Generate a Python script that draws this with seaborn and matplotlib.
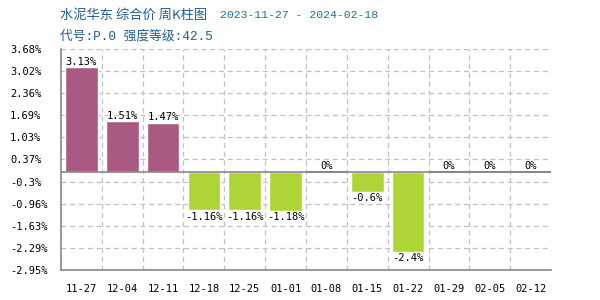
import matplotlib
matplotlib.use("Agg")
import matplotlib.pyplot as plt
import seaborn as sns
import pandas as pd

categories = ["11-27", "12-04", "12-11", "12-18", "12-25", "01-01", "01-08",
              "01-15", "01-22", "01-29", "02-05", "02-12"]
values = [3.13, 1.51, 1.47, -1.16, -1.16, -1.18, 0, -0.6, -2.4, 0, 0, 0]
value_labels = ["3.13%", "1.51%", "1.47%", "-1.16%", "-1.16%", "-1.18%", "0%",
                "-0.6%", "-2.4%", "0%", "0%", "0%"]
y_ticks = [3.68, 3.02, 2.36, 1.69, 1.03, 0.37, -0.3, -0.96, -1.63, -2.29, -2.95]
y_tick_labels = ["3.68%", "3.02%", "2.36%", "1.69%", "1.03%", "0.37%", "-0.3%",
                 "-0.96%", "-1.63%", "-2.29%", "-2.95%"]
title1_cjk = "水泥华东 综合价 周K柱图"
title1_dates = "2023-11-27 - 2024-02-18"
title2 = "代号:P.0 强度等级:42.5"

POS = "#AA5A82"
NEG = "#ADD535"

sns.set_theme(style="white")
plt.rcParams['font.family'] = ['DejaVu Sans Mono', 'Noto Sans CJK SC']

df = pd.DataFrame({"cat": categories, "val": values,
                   "sign": ["pos" if v >= 0 else "neg" for v in values]})

fig = plt.figure(figsize=(6, 3), dpi=100)
ax = fig.add_axes([61/600, 1-270/300, 490/600, 221/300])

sns.barplot(data=df, x="cat", y="val", hue="sign", palette={"pos": POS, "neg": NEG},
            dodge=False, legend=False, width=0.8, ax=ax, saturation=1)

ax.set_ylim(y_ticks[-1], y_ticks[0])
ax.set_xlim(-0.5, len(categories) - 0.5)
ax.set_yticks(y_ticks)
ax.set_yticklabels(y_tick_labels)
ax.set_xlabel("")
ax.set_ylabel("")

# zero-valued bars appear as a thin line
for p in ax.patches:
    if abs(p.get_height()) < 1e-9:
        p.set_edgecolor(POS)
        p.set_linewidth(1.2)
        p.set_x(p.get_x() - 0.1)
        p.set_width(1.0)

# grid
for y in y_ticks:
    ax.axhline(y, color="#c0c0c0", linestyle=(0, (4, 3)), linewidth=0.9, zorder=0)
for i in range(len(categories)):
    ax.axvline(i + 0.5, color="#c0c0c0", linestyle=(0, (4, 3)), linewidth=0.9, zorder=0)
ax.axhline(0, color="#888888", linewidth=1.2, zorder=3)

for s in ["top", "right"]:
    ax.spines[s].set_visible(False)
for s in ["left", "bottom"]:
    ax.spines[s].set_color("#888888")
    ax.spines[s].set_linewidth(1.2)

ax.tick_params(axis="both", length=0, labelsize=7.5, colors="black")
ax.tick_params(axis="x", pad=10)
ax.tick_params(axis="y", pad=51 * 0.72)
for t in ax.get_yticklabels():
    t.set_horizontalalignment("left")

for i, (v, lab) in enumerate(zip(values, value_labels)):
    if v >= 0:
        ax.text(i, v + 0.02, lab, ha="center", va="bottom", fontsize=7.5, color="black")
    else:
        ax.text(i, v - 0.04, lab, ha="center", va="top", fontsize=7.5, color="black")

fig.text(60/600, 1-15/300, title1_cjk, fontsize=9.5, color="#1f5f8b", va="center",
         family=['Noto Sans CJK SC', 'DejaVu Sans'])
fig.text(220/600, 1-15/300, title1_dates, fontsize=8.2, color="#2a6a9a", va="center",
         family=['Liberation Mono', 'DejaVu Sans Mono'])
fig.text(60/600, 1-36/300, title2, fontsize=9.2, color="#1f5f8b", va="center",
         family=['Liberation Mono', 'Noto Sans CJK SC'])

fig.savefig("out.png", dpi=100)
